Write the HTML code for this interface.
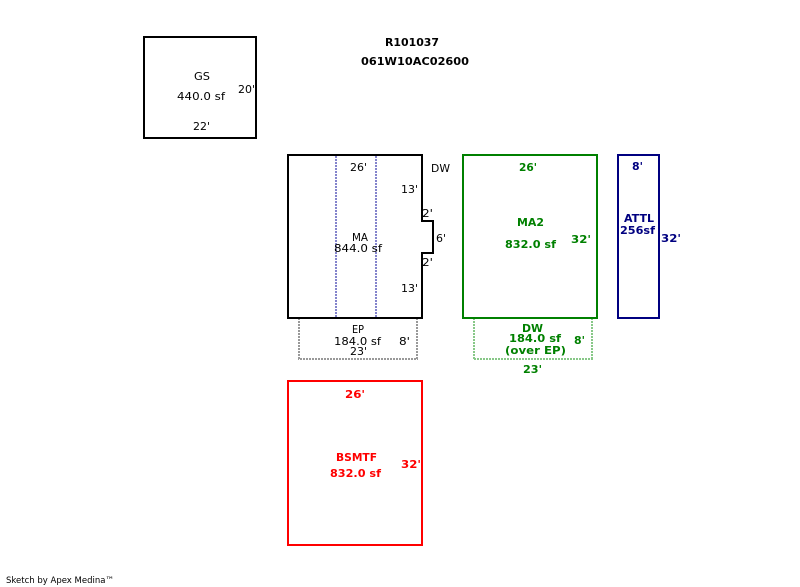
<!DOCTYPE html>
<html><head><meta charset="utf-8"><style>
html,body{margin:0;padding:0;background:#fff;}
svg{display:block;}
text{font-family:"DejaVu Sans","Liberation Sans",sans-serif;font-size:11px;}
.b{font-weight:bold;}
</style></head><body>
<svg width="800" height="587" viewBox="0 0 800 587" xmlns="http://www.w3.org/2000/svg">
<defs>
  <pattern id="gv" patternUnits="userSpaceOnUse" x="0" y="0" width="2" height="3"><rect width="2" height="2" fill="#999"/></pattern>
  <pattern id="gh" patternUnits="userSpaceOnUse" x="0" y="0" width="3" height="2"><rect width="2" height="2" fill="#999"/></pattern>
  <pattern id="bv" patternUnits="userSpaceOnUse" x="0" y="0" width="2" height="3"><rect width="2" height="2" fill="#8484cc"/></pattern>
  <pattern id="lv" patternUnits="userSpaceOnUse" x="0" y="0" width="2" height="3"><rect width="2" height="2" fill="#88c888"/></pattern>
  <pattern id="lh" patternUnits="userSpaceOnUse" x="0" y="0" width="3" height="2"><rect width="2" height="2" fill="#88c888"/></pattern>
</defs>
<g shape-rendering="crispEdges">
  <!-- EP dashed -->
  <rect x="298" y="319" width="2" height="41" fill="url(#gv)"/>
  <rect x="298" y="358" width="120" height="2" fill="url(#gh)"/>
  <rect x="416" y="319" width="2" height="41" fill="url(#gv)"/>
  <!-- MA dotted interior -->
  <rect x="335" y="156" width="2" height="161" fill="url(#bv)"/>
  <rect x="375" y="156" width="2" height="161" fill="url(#bv)"/>
  <!-- DW dashed -->
  <rect x="473" y="319" width="2" height="41" fill="url(#lv)"/>
  <rect x="473" y="358" width="120" height="2" fill="url(#lh)"/>
  <rect x="591" y="319" width="2" height="41" fill="url(#lv)"/>
</g>
<g fill="none" stroke-width="2" shape-rendering="crispEdges">
  <path d="M144 37 H256 V138 H144 Z" stroke="#000"/>
  <path d="M288 155 H422 V221 H433 V253 H422 V318 H288 Z" stroke="#000"/>
  <path d="M463 155 H597 V318 H463 Z" stroke="#008000"/>
  <path d="M618 155 H659 V318 H618 Z" stroke="#000080"/>
  <path d="M288 381 H422 V545 H288 Z" stroke="#ff0000"/>
</g>

<g>
<text class="b" x="385" y="46" textLength="54" lengthAdjust="spacingAndGlyphs">R101037</text>
<text class="b" x="361" y="65" textLength="108" lengthAdjust="spacingAndGlyphs">061W10AC02600</text>

<text x="194" y="80" textLength="16" lengthAdjust="spacingAndGlyphs">GS</text>
<text x="177" y="100" textLength="48" lengthAdjust="spacingAndGlyphs">440.0 sf</text>
<text x="238" y="93" textLength="17" lengthAdjust="spacingAndGlyphs">20'</text>
<text x="193" y="130" textLength="17" lengthAdjust="spacingAndGlyphs">22'</text>

<text x="350" y="171" textLength="17" lengthAdjust="spacingAndGlyphs">26'</text>
<text x="431" y="172" textLength="19" lengthAdjust="spacingAndGlyphs">DW</text>
<text x="401" y="193" textLength="17" lengthAdjust="spacingAndGlyphs">13'</text>
<text x="422" y="217" textLength="11" lengthAdjust="spacingAndGlyphs">2'</text>
<text x="436" y="242" textLength="10" lengthAdjust="spacingAndGlyphs">6'</text>
<text x="422" y="266" textLength="11" lengthAdjust="spacingAndGlyphs">2'</text>
<text x="352" y="241" textLength="16" lengthAdjust="spacingAndGlyphs">MA</text>
<text x="334" y="252" textLength="48" lengthAdjust="spacingAndGlyphs">844.0 sf</text>
<text x="401" y="292" textLength="17" lengthAdjust="spacingAndGlyphs">13'</text>

<text x="352" y="333" textLength="12" lengthAdjust="spacingAndGlyphs">EP</text>
<text x="334" y="345" textLength="47" lengthAdjust="spacingAndGlyphs">184.0 sf</text>
<text x="350" y="355" textLength="17" lengthAdjust="spacingAndGlyphs">23'</text>
<text x="399" y="345" textLength="11" lengthAdjust="spacingAndGlyphs">8'</text>

<g fill="#008000">
<text class="b" x="519" y="171" textLength="18" lengthAdjust="spacingAndGlyphs">26'</text>
<text class="b" x="517" y="226" textLength="27" lengthAdjust="spacingAndGlyphs">MA2</text>
<text class="b" x="505" y="248" textLength="51" lengthAdjust="spacingAndGlyphs">832.0 sf</text>
<text class="b" x="571" y="243" textLength="20" lengthAdjust="spacingAndGlyphs">32'</text>
<text class="b" x="522" y="332" textLength="21" lengthAdjust="spacingAndGlyphs">DW</text>
<text class="b" x="509" y="342" textLength="52" lengthAdjust="spacingAndGlyphs">184.0 sf</text>
<text class="b" x="505" y="354" textLength="61" lengthAdjust="spacingAndGlyphs">(over EP)</text>
<text class="b" x="574" y="344" textLength="11" lengthAdjust="spacingAndGlyphs">8'</text>
<text class="b" x="523" y="373" textLength="19" lengthAdjust="spacingAndGlyphs">23'</text>
</g>

<g fill="#000080">
<text class="b" x="632" y="170" textLength="11" lengthAdjust="spacingAndGlyphs">8'</text>
<text class="b" x="624" y="222" textLength="30" lengthAdjust="spacingAndGlyphs">ATTL</text>
<text class="b" x="620" y="234" textLength="35" lengthAdjust="spacingAndGlyphs">256sf</text>
<text class="b" x="661" y="242" textLength="20" lengthAdjust="spacingAndGlyphs">32'</text>
</g>

<g fill="#ff0000">
<text class="b" x="345" y="398" textLength="20" lengthAdjust="spacingAndGlyphs">26'</text>
<text class="b" x="336" y="461" textLength="41" lengthAdjust="spacingAndGlyphs">BSMTF</text>
<text class="b" x="330" y="477" textLength="51" lengthAdjust="spacingAndGlyphs">832.0 sf</text>
<text class="b" x="401" y="468" textLength="20" lengthAdjust="spacingAndGlyphs">32'</text>
</g>

<text x="6" y="583" style="font-size:9px" textLength="108" lengthAdjust="spacingAndGlyphs">Sketch by Apex Medina™</text>
</g>
</svg>
</body></html>
